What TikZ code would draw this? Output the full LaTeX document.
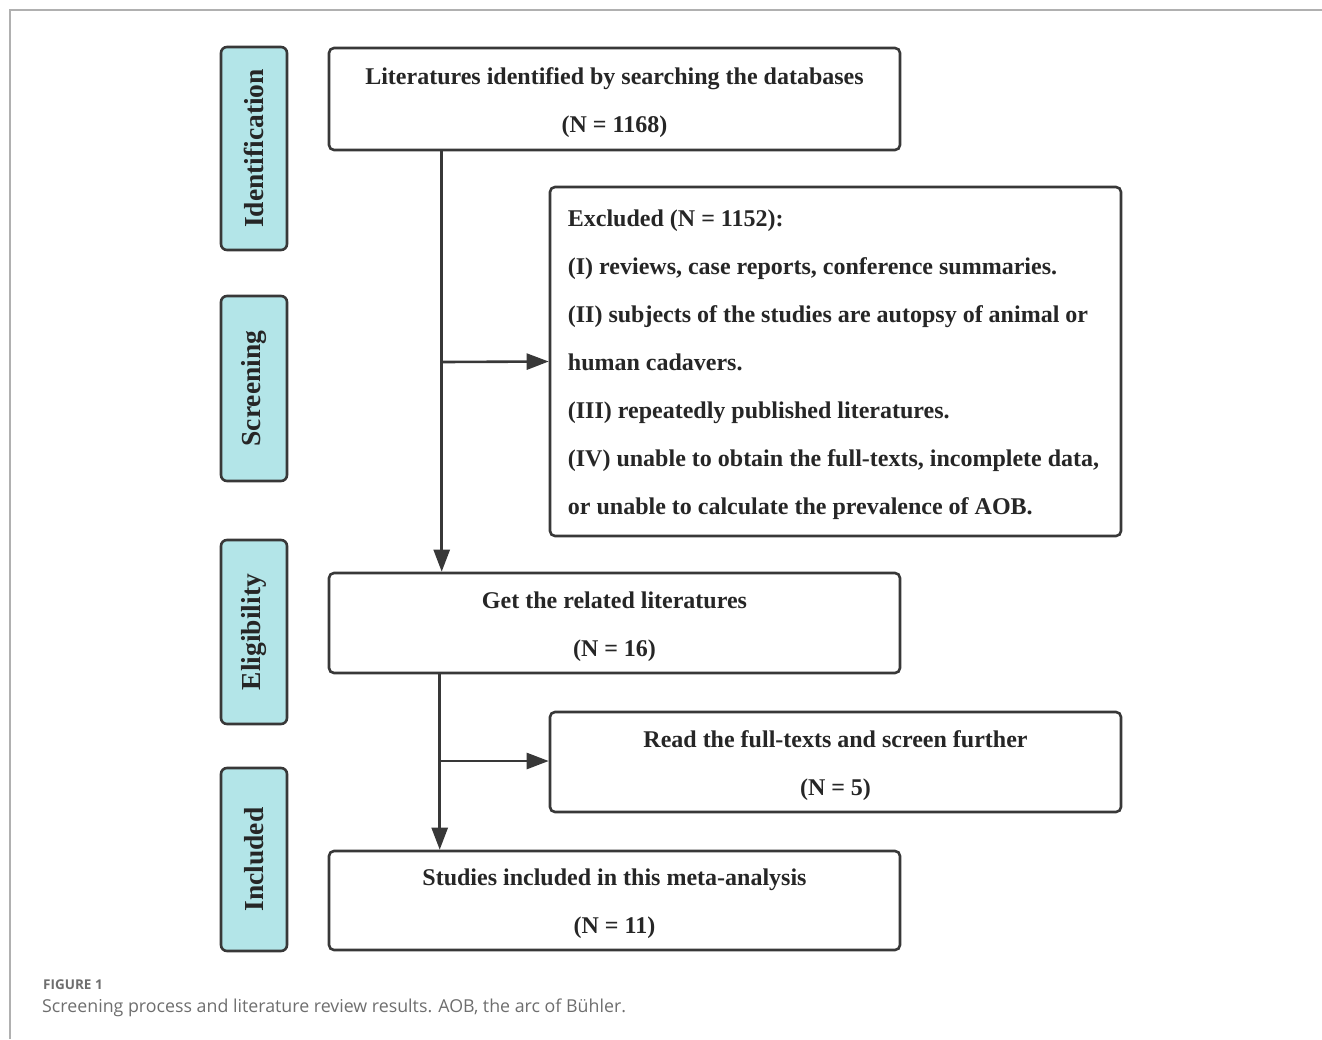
\documentclass[tikz,border=0pt]{standalone}
\usepackage{fontspec}
\setmainfont{Liberation Serif}
\newfontfamily\capfont{Open Sans}
\usetikzlibrary{arrows.meta}
\definecolor{lineC}{HTML}{383838}
\definecolor{sideC}{HTML}{B3E5E8}
\definecolor{frameC}{HTML}{B0B0B0}
\definecolor{capC}{HTML}{6E6E6E}
\newcommand{\tp}{\rule{0pt}{24pt}}
\tikzset{
  boxfont/.style={font=\fontsize{24}{48}\selectfont\bfseries, text=black!85},
  box/.style={draw=lineC, line width=2.6pt, rounded corners=5pt, fill=white,
    minimum width=571pt, align=center, inner sep=0pt, boxfont},
  side/.style={draw=lineC, line width=2.6pt, rounded corners=6pt, fill=sideC,
    inner sep=0pt, rotate=90,
    font=\fontsize{27.5}{30}\selectfont\bfseries, text=black!85},
  arr/.style={draw=lineC, line width=2.6pt, -{Triangle[length=22pt,width=16pt]}},
}
\begin{document}
\begin{tikzpicture}[x=1pt,y=-1pt]
\useasboundingbox (0,0) rectangle (1322,1039);
% page frame
\draw[frameC, line width=1.3pt] (10,1039) -- (10,10) -- (1322,10);
% side labels
\node[side, minimum height=66pt, minimum width=203pt] (sid) at (254,148.5) {Identification};
\node[side, minimum height=66pt, minimum width=185pt] (sscr) at (254,388.5) {Screening};
\node[side, minimum height=66pt, minimum width=184pt] (selig) at (254,632) {Eligibility};
\node[side, minimum height=66pt, minimum width=183pt] (sinc) at (254,859.5) {Included};
% boxes
\node[box, minimum height=102pt] (b1) at (614.5,99) {\tp Literatures identified by searching the databases\\(N = 1168)};
\node[draw=lineC, line width=2.6pt, rounded corners=5pt, fill=white, minimum width=571pt, minimum height=349pt, inner sep=0pt] (excl) at (835.5,361.5) {};
\node[anchor=west, align=left, inner sep=0pt, boxfont] (excltext) at ([xshift=19pt]excl.west)
{\tp Excluded (N = 1152):\\
(I) reviews, case reports, conference summaries.\\
(II) subjects of the studies are autopsy of animal or\\
human cadavers.\\
(III) repeatedly published literatures.\\
(IV) unable to obtain the full-texts, incomplete data,\\
or unable to calculate the prevalence of AOB.};
\node[box, minimum height=100pt] (b3) at (614.5,623) {\tp Get the related literatures\\(N = 16)};
\node[box, minimum height=100pt] (b4) at (835.5,762) {\tp Read the full-texts and screen further\\(N = 5)};
\node[box, minimum height=99pt] (b5) at (614.5,900.5) {\tp Studies included in this meta-analysis\\(N = 11)};
% connectors
\coordinate (j1) at (443,362);
\coordinate (j2) at (441,761);
\draw[arr] ([xshift=114pt]b1.south west) -- ([xshift=114pt]b3.north west);
\draw[arr] (j1) -- (excl.west);
\draw[arr] ([xshift=112pt]b3.south west) -- ([xshift=112pt]b5.north west);
\draw[arr] (j2) -- (j2 -| b4.west);
% caption
\node[anchor=west, inner sep=0pt, text=capC, font=\capfont\bfseries\fontsize{13.5}{16}\selectfont] (fig) at (43,985) {FIGURE 1};
\node[anchor=west, inner sep=0pt, text=capC, font=\capfont\fontsize{17.8}{20}\selectfont] (cap) at (42,1008) {Screening process and literature review results. AOB, the arc of Bühler.};
\end{tikzpicture}
\end{document}
